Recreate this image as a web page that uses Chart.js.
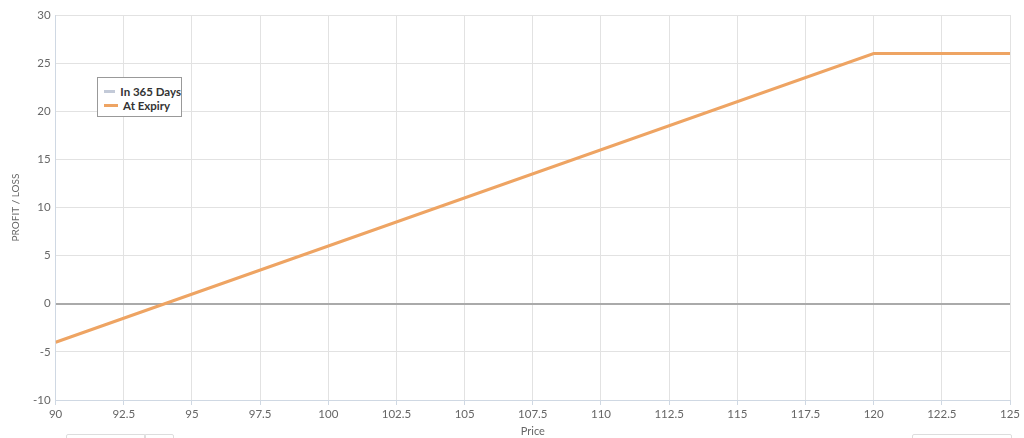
<!DOCTYPE html>
<html>
<head>
<meta charset="utf-8">
<script src="https://cdn.jsdelivr.net/npm/chart.js@4/dist/chart.umd.min.js"></script>
<style>
  html, body { margin: 0; padding: 0; background: #fff; }
  #wrap { position: relative; width: 1024px; height: 438px; overflow: hidden; }
  #chart { position: absolute; left: 0; top: 0; }
  #legend {
    position: absolute; left: 97px; top: 77px; width: 85px; height: 40px; padding: 6px 0 0 0;
    background: #fff; border: 1px solid #999; font: bold 11.5px Lato, "Open Sans", sans-serif;
    color: #333; box-sizing: border-box; white-space: nowrap;
  }
  #legend div { display: flex; align-items: center; height: 14px; padding-left: 6px; }
  #legend span.sw { display: inline-block; width: 14px; height: 3px; margin-right: 5px; }
  .stub { position: absolute; top: 434px; height: 10px; border: 1px solid #ddd; border-radius: 2px; }
</style>
</head>
<body>
<div id="wrap">
  <canvas id="chart" width="1024" height="438"></canvas>
  <div id="legend"></div>
  <div class="stub" style="left:66px;width:78px"></div>
  <div class="stub" style="left:144px;width:28px"></div>
  <div class="stub" style="left:912px;width:98px"></div>
</div>
<script>
"use strict";

// Underlying price at expiry vs. profit / loss
const PRICES = [90, 120, 125];
const AT_EXPIRY = [-4, 26, 26];
const IN_365_DAYS = []; // not drawn in the reference, legend entry only
const X_TICKS = { min: 90, max: 125, step: 2.5 };
const Y_TICKS = { min: -10, max: 30, step: 5 };

const FONT = "Lato, 'Open Sans', sans-serif";
const COLORS = { expiry: "#eea463", days: "#c3cad8", grid: "#e2e2e2", zero: "#aaaaaa", axis: "#cfd8e3", tick: "#666" };

const toPoints = (ys) => ys.map((y, i) => ({ x: PRICES[i], y }));

const datasets = [
  { label: "In 365 Days", data: IN_365_DAYS, borderColor: COLORS.days, backgroundColor: COLORS.days,
    borderWidth: 3, pointRadius: 0 },
  { label: "At Expiry", data: toPoints(AT_EXPIRY), borderColor: COLORS.expiry, backgroundColor: COLORS.expiry,
    borderWidth: 3, pointRadius: 0, tension: 0 },
];

const chart = new Chart(document.getElementById("chart"), {
  type: "line",
  data: { datasets },
  options: {
    responsive: false,
    animation: false,
    layout: { padding: { left: 10, right: 14, top: 15, bottom: 0 } },
    plugins: { legend: { display: false }, tooltip: { enabled: false } },
    scales: {
      x: {
        type: "linear", min: X_TICKS.min, max: X_TICKS.max,
        ticks: { stepSize: X_TICKS.step, color: COLORS.tick, font: { family: FONT, size: 11.5 }, maxRotation: 0,
                 callback: (v) => String(v), padding: 2 },
        grid: { color: COLORS.grid, tickColor: COLORS.axis, tickLength: 5 },
        border: { color: COLORS.axis },
        title: { display: true, text: "Price", color: COLORS.tick, font: { family: FONT, size: 11 }, padding: { top: 2, bottom: 0 } },
      },
      y: {
        min: Y_TICKS.min, max: Y_TICKS.max,
        ticks: { stepSize: Y_TICKS.step, color: COLORS.tick, font: { family: FONT, size: 11.5 }, padding: 5 },
        grid: { color: (c) => (c.tick && c.tick.value === 0 ? COLORS.zero : COLORS.grid),
                lineWidth: (c) => (c.tick && c.tick.value === 0 ? 2 : 1), drawTicks: false },
        border: { color: COLORS.axis },
        title: { display: true, text: "PROFIT / LOSS", color: COLORS.tick, font: { family: FONT, size: 10 }, padding: { top: 0, bottom: 6 } },
      },
    },
  },
});

// HTML legend built from the chart's datasets
document.getElementById("legend").replaceChildren(...chart.data.datasets.map((ds) => {
  const row = document.createElement("div");
  const sw = Object.assign(document.createElement("span"), { className: "sw" });
  sw.style.background = ds.borderColor;
  row.append(sw, document.createTextNode(ds.label));
  return row;
}));
</script>
</body>
</html>
